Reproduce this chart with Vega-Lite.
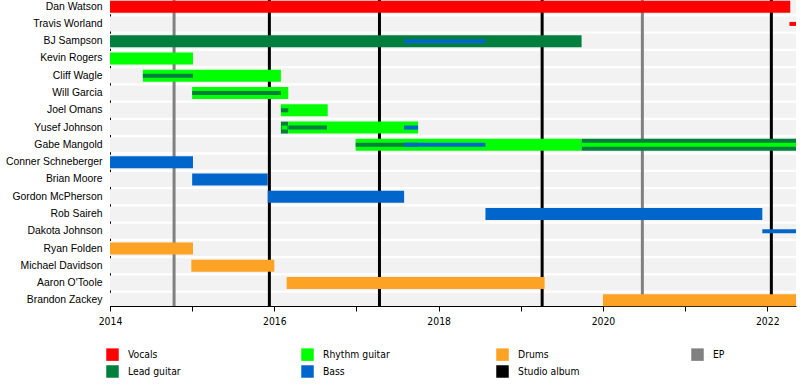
{
  "$schema": "https://vega.github.io/schema/vega-lite/v6.json",
  "width": 686,
  "height": 306,
  "autosize": {"type": "none"},
  "padding": {"left": 110, "top": 0, "right": 4, "bottom": 80},
  "background": "white",
  "config": {"view": {"stroke": null}},
  "datasets": {
    "members": [
      {"member": "Dan Watson"}, {"member": "Travis Worland"}, {"member": "BJ Sampson"},
      {"member": "Kevin Rogers"}, {"member": "Cliff Wagle"}, {"member": "Will Garcia"},
      {"member": "Joel Omans"}, {"member": "Yusef Johnson"}, {"member": "Gabe Mangold"},
      {"member": "Conner Schneberger"}, {"member": "Brian Moore"}, {"member": "Gordon McPherson"},
      {"member": "Rob Saireh"}, {"member": "Dakota Johnson"}, {"member": "Ryan Folden"},
      {"member": "Michael Davidson"}, {"member": "Aaron O'Toole"}, {"member": "Brandon Zackey"}
    ],
    "bars": [
      {"member": "Dan Watson", "role": "Vocals", "kind": "main", "start": 2014, "end": 2022.28},
      {"member": "BJ Sampson", "role": "Lead guitar", "kind": "main", "start": 2014, "end": 2019.74},
      {"member": "Kevin Rogers", "role": "Rhythm guitar", "kind": "main", "start": 2014, "end": 2015.01},
      {"member": "Cliff Wagle", "role": "Rhythm guitar", "kind": "main", "start": 2014.4, "end": 2016.08},
      {"member": "Will Garcia", "role": "Rhythm guitar", "kind": "main", "start": 2015.0, "end": 2016.17},
      {"member": "Joel Omans", "role": "Rhythm guitar", "kind": "main", "start": 2016.08, "end": 2016.65},
      {"member": "Yusef Johnson", "role": "Lead guitar", "kind": "main", "start": 2016.08, "end": 2016.17},
      {"member": "Yusef Johnson", "role": "Rhythm guitar", "kind": "main", "start": 2016.17, "end": 2017.75},
      {"member": "Gabe Mangold", "role": "Rhythm guitar", "kind": "main", "start": 2016.99, "end": 2019.74},
      {"member": "Gabe Mangold", "role": "Lead guitar", "kind": "main", "start": 2019.74, "end": 2022.35},
      {"member": "Conner Schneberger", "role": "Bass", "kind": "main", "start": 2014, "end": 2015.01},
      {"member": "Brian Moore", "role": "Bass", "kind": "main", "start": 2015.0, "end": 2015.92},
      {"member": "Gordon McPherson", "role": "Bass", "kind": "main", "start": 2015.92, "end": 2017.58},
      {"member": "Rob Saireh", "role": "Bass", "kind": "main", "start": 2018.57, "end": 2021.94},
      {"member": "Ryan Folden", "role": "Drums", "kind": "main", "start": 2014, "end": 2015.01},
      {"member": "Michael Davidson", "role": "Drums", "kind": "main", "start": 2014.99, "end": 2016.0},
      {"member": "Aaron O'Toole", "role": "Drums", "kind": "main", "start": 2016.15, "end": 2019.29},
      {"member": "Brandon Zackey", "role": "Drums", "kind": "main", "start": 2020.0, "end": 2022.35},
      {"member": "Travis Worland", "role": "Vocals", "kind": "thin", "start": 2022.27, "end": 2022.35},
      {"member": "BJ Sampson", "role": "Bass", "kind": "thin", "start": 2017.58, "end": 2018.57},
      {"member": "Cliff Wagle", "role": "Lead guitar", "kind": "thin", "start": 2014.4, "end": 2015.01},
      {"member": "Will Garcia", "role": "Lead guitar", "kind": "thin", "start": 2015.0, "end": 2016.08},
      {"member": "Joel Omans", "role": "Lead guitar", "kind": "thin", "start": 2016.08, "end": 2016.17},
      {"member": "Yusef Johnson", "role": "Rhythm guitar", "kind": "thin", "start": 2016.09, "end": 2016.16},
      {"member": "Yusef Johnson", "role": "Lead guitar", "kind": "thin", "start": 2016.17, "end": 2016.64},
      {"member": "Yusef Johnson", "role": "Bass", "kind": "thin", "start": 2017.58, "end": 2017.75},
      {"member": "Gabe Mangold", "role": "Lead guitar", "kind": "thin", "start": 2016.99, "end": 2017.75},
      {"member": "Gabe Mangold", "role": "Bass", "kind": "thin", "start": 2017.58, "end": 2018.57},
      {"member": "Gabe Mangold", "role": "Rhythm guitar", "kind": "thin", "start": 2019.74, "end": 2022.35},
      {"member": "Dakota Johnson", "role": "Bass", "kind": "thin", "start": 2021.94, "end": 2022.35}
    ],
    "events": [
      {"type": "EP", "date": 2014.78},
      {"type": "Studio album", "date": 2015.94},
      {"type": "Studio album", "date": 2017.28},
      {"type": "Studio album", "date": 2019.26},
      {"type": "EP", "date": 2020.48},
      {"type": "Studio album", "date": 2022.05}
    ]
  },
  "layer": [
    {
      "data": {"name": "members"},
      "mark": {"type": "bar", "color": "#f2f2f2", "height": 15, "clip": true},
      "encoding": {
        "y": {
          "field": "member", "type": "nominal",
          "scale": {"domain": ["Dan Watson", "Travis Worland", "BJ Sampson", "Kevin Rogers", "Cliff Wagle", "Will Garcia", "Joel Omans", "Yusef Johnson", "Gabe Mangold", "Conner Schneberger", "Brian Moore", "Gordon McPherson", "Rob Saireh", "Dakota Johnson", "Ryan Folden", "Michael Davidson", "Aaron O'Toole", "Brandon Zackey"], "range": [-2, 309], "paddingInner": 0, "paddingOuter": 0},
          "axis": {"title": null, "ticks": false, "domain": true, "domainColor": "#000000", "labelFont": "Liberation Sans", "labelFontSize": 10.4, "labelColor": "#000000", "labelPadding": 8, "labelLimit": 200}
        },
        "x": {"datum": 2014, "type": "quantitative",
          "scale": {"domain": [2014, 2022.35], "nice": false, "zero": false},
          "axis": {"title": null, "grid": false, "values": [2014, 2015, 2016, 2017, 2018, 2019, 2020, 2021, 2022], "format": "d", "labelExpr": "datum.value % 2 == 0 ? datum.label : ''", "labelFlush": false, "labelOverlap": false, "domainColor": "#000000", "tickColor": "#000000", "tickSize": 5, "labelFont": "DejaVu Sans Condensed, Liberation Sans Narrow, sans-serif", "labelFontSize": 10.3, "labelColor": "#000000", "labelPadding": 5}},
        "x2": {"datum": 2022.35}
      }
    },
    {
      "data": {"name": "events"},
      "mark": {"type": "rule", "strokeWidth": 3},
      "encoding": {
        "x": {"field": "date", "type": "quantitative"},
        "stroke": {"field": "type", "type": "nominal", "scale": {"domain": ["Studio album", "EP"], "range": ["#000000", "#808080"]}, "legend": null}
      }
    },
    {
      "data": {"name": "bars"},
      "transform": [{"filter": "datum.kind == 'main'"}],
      "mark": {"type": "bar", "height": 12},
      "encoding": {
        "y": {"field": "member", "type": "nominal"},
        "x": {"field": "start", "type": "quantitative"},
        "x2": {"field": "end"},
        "color": {"field": "role", "type": "nominal",
          "scale": {"domain": ["Vocals", "Lead guitar", "Rhythm guitar", "Bass", "Drums", "Studio album", "EP"], "range": ["#ff0000", "#007f3f", "#00ff00", "#0066cc", "#fca325", "#000000", "#808080"]},
          "legend": {"title": null, "orient": "none", "legendX": -4, "legendY": 348, "columns": 4, "gridAlign": "all", "columnPadding": 106, "rowPadding": 4, "symbolType": "square", "symbolSize": 156, "symbolStrokeWidth": 0, "symbolOpacity": 1, "labelFont": "DejaVu Sans Condensed, Liberation Sans Narrow, sans-serif", "labelFontSize": 10.3, "labelColor": "#000000", "labelOffset": 9, "padding": 0}}
      }
    },
    {
      "data": {"name": "bars"},
      "transform": [{"filter": "datum.kind == 'thin'"}],
      "mark": {"type": "bar", "height": 4},
      "encoding": {
        "y": {"field": "member", "type": "nominal"},
        "x": {"field": "start", "type": "quantitative"},
        "x2": {"field": "end"},
        "color": {"field": "role", "type": "nominal"}
      }
    }
  ]
}
